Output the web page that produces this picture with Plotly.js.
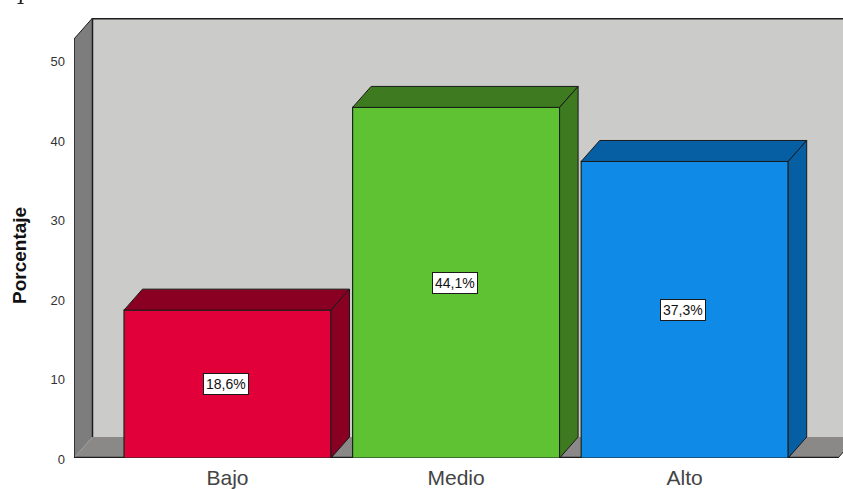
<!DOCTYPE html>
<html><head><meta charset="utf-8">
<script src="https://cdn.plot.ly/plotly-3.0.1.min.js"></script>
<style>html,body{margin:0;padding:0;background:#fff;overflow:hidden}</style>
</head><body><div id="chart" style="width:843px;height:489px"></div>
<script>
const categories = ["Bajo", "Medio", "Alto"];
const values = [18.6, 44.1, 37.3];
const positions = [0, 1, 2];
const frontColors = ["#e2003a", "#5fc232", "#0f8ae6"];
const darkColors = ["#8a0022", "#3e7a1f", "#075fa3"];
const yTicks = [0, 10, 20, 30, 40, 50];
const yTitle = "Porcentaje";

const W = 843, H = 489, L = 74, T = 18, B = 31;
const unitX = 228.6, unitY = 7.95;
const x0 = 227.5;
const xMin = -(x0 - L) / unitX, xMax = (W - x0) / unitX;
const yMax = (H - B - T) / unitY;
const halfBar = 103.5 / unitX;
const dx = 18.5 / unitX, dy = 21 / unitY;
const wallTop = yMax - dy;
const floorEnd = (838 - x0) / unitX;

function poly(xs, ys, fill) {
  return {type: "path", xref: "x", yref: "y", layer: "below",
    path: xs.map((x, i) => (i ? "L" : "M") + x + "," + ys[i]).join(" ") + " Z",
    fillcolor: fill, line: {width: 0}};
}
function seg(x1, y1, x2, y2, width) {
  return {type: "line", xref: "x", yref: "y", layer: "below",
    x0: x1, y0: y1, x1: x2, y1: y2, line: {color: "#1c1c1c", width: width}};
}
// The reference's top edge crops a stray glyph remnant: drawn as a plain stroke, not as text.
function remnant(px1, py1, px2, py2, width) {
  const toX = p => (p - L) / (W - L), toY = p => 1 + (T - p) / (H - T - B);
  return {type: "line", xref: "paper", yref: "paper",
    x0: toX(px1), y0: toY(py1), x1: toX(px2), y1: toY(py2), line: {color: "#222", width: width}};
}
const shapes = [
  poly([xMin + dx, xMax + dx, xMax + dx, xMin + dx], [dy, dy, yMax, yMax], "#cbcbc9"),
  poly([xMin, xMin + dx, xMin + dx, xMin], [0, dy, yMax, wallTop], "#7d7d7d"),
  poly([xMin, xMin + dx, floorEnd + dx, floorEnd], [0, dy, dy, 0], "#8b8987"),
  seg(xMin, 0, xMin, wallTop, 1.5),
  seg(xMin + dx, dy, xMin + dx, yMax, 1.5),
  seg(xMin, wallTop, xMin + dx, yMax, 1),
  seg(xMin + dx, yMax - 0.05, xMax, yMax - 0.05, 2),
  seg(xMin, 0.03, floorEnd, 0.03, 2),
  seg(floorEnd, 0, floorEnd + dx, dy, 1),
  remnant(21, 0, 20.5, 3, 2),
  remnant(17.5, 3.5, 23.5, 3.5, 1)
];

const traces = [{
  type: "bar", x: positions, y: values, width: 2 * halfBar,
  marker: {color: frontColors, line: {color: "#16261a", width: 1.2}},
  hoverinfo: "skip"
}];
positions.forEach((p, i) => {
  const l = p - halfBar, r = p + halfBar, v = values[i];
  const face = {type: "scatter", mode: "lines", fill: "toself",
    fillcolor: darkColors[i], line: {color: "#1a1a1a", width: 1}, hoverinfo: "skip"};
  traces.push(Object.assign({}, face, {
    x: [l, l + dx, r + dx, r, l], y: [v, v + dy, v + dy, v, v]}));
  traces.push(Object.assign({}, face, {
    x: [r, r + dx, r + dx, r, r], y: [0, dy, v + dy, v, 0]}));
});

const annotations = positions.map((p, i) => ({
  x: p - 1.5 / unitX, y: values[i] / 2, xref: "x", yref: "y", showarrow: false,
  text: values[i].toFixed(1).replace(".", ",") + "%",
  bgcolor: "#ffffff", bordercolor: "#1a1a1a", borderwidth: 1, borderpad: 2,
  font: {family: "Liberation Sans, Arial, sans-serif", size: 14, color: "#111"}
}));
annotations.push({
  xref: "paper", yref: "paper", x: (19 - L) / (W - L), y: 1 + (T - 255) / (H - T - B),
  xanchor: "center", yanchor: "middle", showarrow: false, textangle: -90,
  text: "<b>" + yTitle + "</b>",
  font: {family: "Liberation Sans, Arial, sans-serif", size: 19, color: "#111"}
});

Plotly.newPlot("chart", traces, {
  width: W, height: H, showlegend: false, barmode: "overlay",
  margin: {l: L, r: 0, t: T, b: B, pad: 0},
  paper_bgcolor: "#ffffff", plot_bgcolor: "#ffffff",
  font: {family: "Liberation Sans, Arial, sans-serif", color: "#333"},
  xaxis: {range: [xMin, xMax], tickmode: "array", tickvals: positions, ticktext: categories,
    showgrid: false, zeroline: false, showline: false, ticks: "",
    ticklabelstandoff: 5, tickfont: {size: 21, color: "#444"}},
  yaxis: {range: [0, yMax], tickmode: "array", tickvals: yTicks, ticktext: yTicks.map(String),
    showgrid: false, zeroline: false, showline: false, ticks: "",
    ticklabelstandoff: 8, ticklabelshift: 1, tickfont: {size: 13, color: "#333"}},
  shapes, annotations
}, {displayModeBar: false, staticPlot: true});
</script></body></html>
